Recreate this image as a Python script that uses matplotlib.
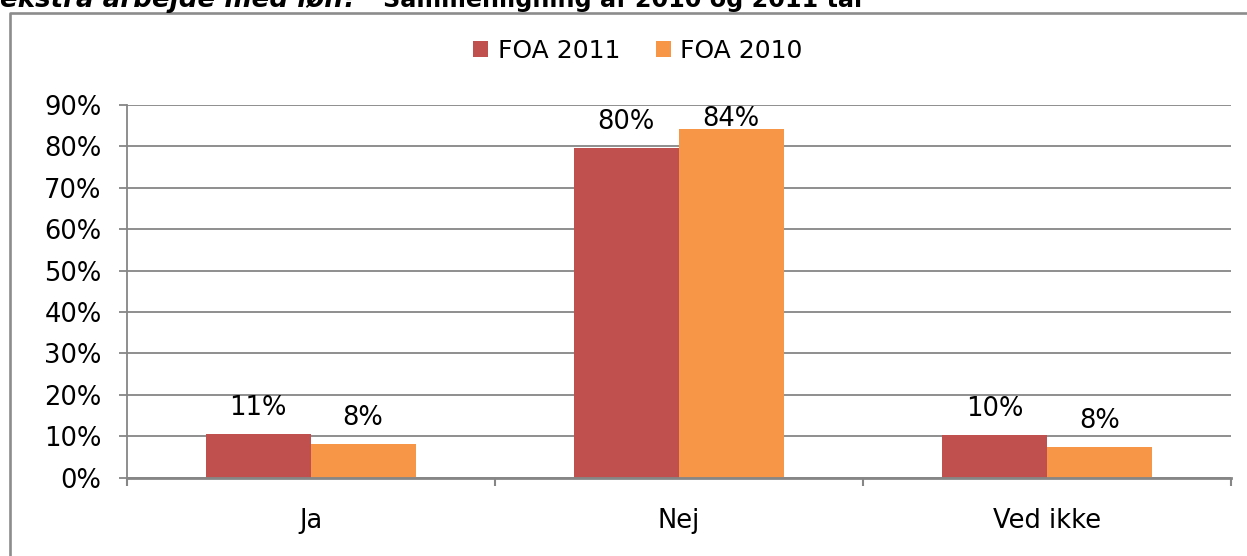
import matplotlib
matplotlib.use("Agg")
import matplotlib.pyplot as plt
import numpy as np
from matplotlib.lines import Line2D

categories = ["Ja", "Nej", "Ved ikke"]
series_names = ["FOA 2011", "FOA 2010"]
foa_2011 = [10.6, 79.6, 10.2]
foa_2010 = [8.2, 84.2, 7.5]
y_ticks = [0, 10, 20, 30, 40, 50, 60, 70, 80, 90]
title_part1 = "ekstra arbejde med løn?"
title_part2 = "Sammenligning af 2010 og 2011 tal"

colors = ["#C0504D", "#F79646"]
grid_col = "#868686"
FS = 18.5

W, H = 1247, 556
fig = plt.figure(figsize=(W / 100, H / 100), dpi=100)
fig.patch.set_facecolor("white")

def fx(px):
    return px / W

def fy(py):
    return 1 - py / H

ax = fig.add_axes([fx(126.5), fy(477.7), fx(1231) - fx(126.5), fy(105) - fy(477.7)])

x = np.arange(len(categories))
bw = 0.285
for i, (vals, name) in enumerate(zip([foa_2011, foa_2010], series_names)):
    ax.bar(x + (i - 0.5) * bw, vals, width=bw, color=colors[i], label=name, zorder=3)
    for xi, v in zip(x, vals):
        off = 2.2 if v > 82 else 13.7
        ax.annotate(f"{v:.0f}%", (xi + (i - 0.5) * bw, v), xytext=(0, off),
                    textcoords="offset points", ha="center", va="baseline",
                    fontsize=FS, color="black", zorder=4)

ax.set_xlim(-0.5, len(categories) - 0.5)
ax.set_ylim(0, 90)
ax.set_yticks(y_ticks)
ax.set_yticklabels([f"{t}%" for t in y_ticks], fontsize=FS)
ax.yaxis.grid(True, color=grid_col, linewidth=1.3, zorder=0)
ax.set_axisbelow(True)

ax.set_xticks(np.arange(len(categories) + 1) - 0.5)
ax.set_xticklabels([])
ax.set_xticks(x, minor=True)
ax.set_xticklabels(categories, minor=True, fontsize=FS)
ax.tick_params(axis="x", which="minor", length=0, pad=22)
ax.tick_params(axis="x", which="major", length=6, width=1.5, color=grid_col, direction="out")
ax.tick_params(axis="y", length=6, width=1.3, color=grid_col, pad=12)

for s in ["top", "right"]:
    ax.spines[s].set_visible(False)
ax.spines["left"].set_color(grid_col)
ax.spines["left"].set_linewidth(1.3)
ax.spines["bottom"].set_color(grid_col)
ax.spines["bottom"].set_linewidth(2)
ax.spines["bottom"].set_zorder(5)

fig.legend(loc="center", bbox_to_anchor=(fx(638), fy(51)), ncol=2, frameon=False,
           fontsize=18, handlelength=0.6, handleheight=0.6, handletextpad=0.4,
           columnspacing=1.4, borderpad=0)

# chart frame (cut off at right and bottom)
fig.add_artist(Line2D([fx(9.5), fx(9.5), fx(1300)], [fy(600), fy(12.8), fy(12.8)],
                      transform=fig.transFigure, color="#8c8c8c", linewidth=1.9))

# cut-off title at top (as in the reference)
fig.text(fx(0), fy(7), title_part1, fontsize=18.8, fontweight="bold", fontstyle="italic",
         ha="left", va="baseline")
fig.text(fx(383), fy(7), title_part2, fontsize=17.2, fontweight="bold",
         ha="left", va="baseline")

fig.savefig("out.png", dpi=100)
